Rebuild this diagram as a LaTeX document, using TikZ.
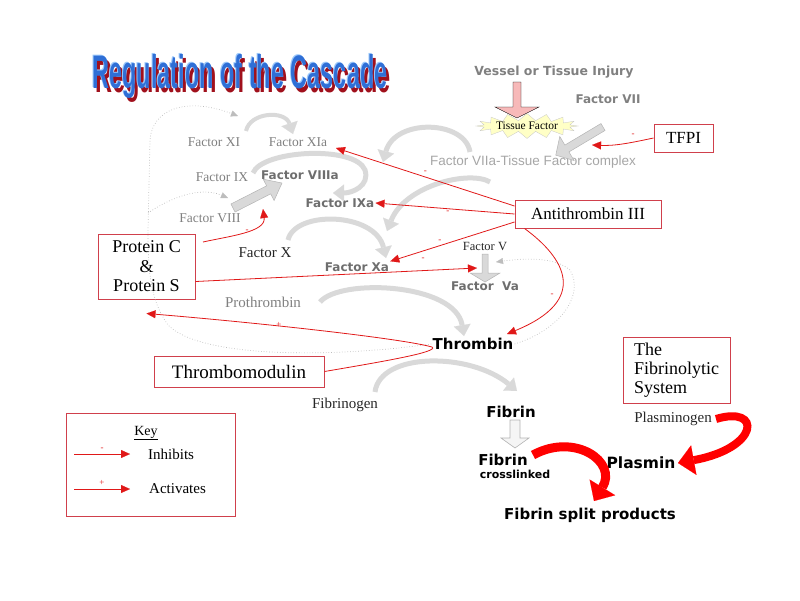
\documentclass[tikz,border=0pt]{standalone}
\usepackage{fontspec}
\setmainfont{Liberation Serif}
\newfontfamily\arialfont{Liberation Sans}
\newfontfamily\blackfont{DejaVu Sans}
\usetikzlibrary{arrows.meta}
\usetikzlibrary{calc,positioning}
\usetikzlibrary{shapes.symbols}

\definecolor{boxred}{HTML}{D0404C}
\definecolor{inhred}{HTML}{E01818}
\definecolor{lightgrey}{HTML}{D9D9D9}
\definecolor{edgegrey}{HTML}{B4B4B4}
\definecolor{txtgrey}{HTML}{808080}
\definecolor{boldgrey}{HTML}{6E6E6E}
\definecolor{complexgrey}{HTML}{A6A6A6}
\definecolor{dotgrey}{HTML}{BDBDBD}
\definecolor{injpink}{HTML}{F7B9B9}
\definecolor{tfyellow}{HTML}{FFFFC6}
\definecolor{titleblue}{HTML}{2F6FD6}
\definecolor{titlelight}{HTML}{9CC8FA}
\definecolor{titlered}{HTML}{A0101C}

% block arrow: style, start, angle, length, shaft half, head half, head length
\newcommand{\blockarrow}[7]{%
  \draw[#1, shift={(#2)}, rotate=#3] (0,-#5) -- (#4-#7,-#5) -- (#4-#7,-#6) -- (#4,0)
    -- (#4-#7,#6) -- (#4-#7,#5) -- (0,#5) -- cycle;}
\newcommand{\fsz}[1]{\fontsize{#1}{#1}\selectfont}
\newcommand{\titletext}{Regulation of the Cascade}

\begin{document}
\begin{tikzpicture}[x=1pt,y=-1pt]
\tikzstyle{titletxt}=[font=\arialfont\bfseries\fontsize{47}{50}\selectfont, xscale=0.5, inner sep=0pt]
\tikzstyle{greytxt}=[text=txtgrey, font=\fsz{13.5}, inner sep=1pt]
\tikzstyle{darktxt}=[text=black!85, font=\fsz{15}, inner sep=1pt]
\tikzstyle{boldtxt}=[text=boldgrey, font=\blackfont\bfseries\fsz{12}, inner sep=1pt]
\tikzstyle{blacktxt}=[text=black, font=\blackfont\bfseries\fsz{15}, inner sep=1pt]
\tikzstyle{redbox}=[draw=boxred, line width=1pt, inner sep=0pt, align=center]
\tikzstyle{inh}=[draw=inhred, line width=0.8pt, -{Triangle[width=8pt,length=9pt,line width=0.1pt]}]
\tikzstyle{minus}=[text=inhred, font=\fsz{9}, inner sep=1pt]
\tikzstyle{greyarc}=[draw=lightgrey, line width=5pt, -{Triangle[width=17pt,length=11pt,line width=0.1pt]}]
\tikzstyle{redarc}=[draw=red, line width=9pt, -{Triangle[width=30pt,length=16pt,line width=0.1pt]}]
\tikzstyle{dots}=[draw=dotgrey, dotted, line width=0.7pt, -{Triangle[width=6pt,length=7pt,line width=0.1pt]}]
\useasboundingbox (0,0) rectangle (800,600);

% title
\node[titletxt] (title) at (240,78) {\rlap{\hspace{6pt}\raisebox{-4pt}{\color{titlered}\titletext}}%
  \rlap{\hspace{-2pt}\raisebox{1pt}{\color{titlelight}\titletext}}{\color{titleblue}\titletext}};

% labels
\node[boldtxt, text=txtgrey, font=\blackfont\bfseries\fsz{12.5}] (vessel) at (554,72) {Vessel or Tissue Injury};
\node[boldtxt, text=txtgrey] (factorVII) at (608,99) {Factor VII};
\node[starburst, fill=tfyellow, draw=gray!45, line width=0.3pt, minimum width=98pt, minimum height=24pt,
  starburst points=16, starburst point height=7pt, random starburst=0, inner sep=0pt,
  font=\fsz{11.5}] (tissue) at (527,126) {Tissue Factor};
\node[text=complexgrey, font=\arialfont\fsz{13.5}, inner sep=1pt] (complex) at (533,162) {Factor VIIa-Tissue Factor complex};
\node[greytxt] (fXI) at (214,142) {Factor XI};
\node[greytxt] (fXIa) at (298,142) {Factor XIa};
\node[greytxt] (fIX) at (222,177) {Factor IX};
\node[boldtxt] (fVIIIa) at (300,175) {Factor VIIIa};
\node[greytxt] (fVIII) at (210,218) {Factor VIII};
\node[boldtxt] (fIXa) at (340,203) {Factor IXa};
\node[darktxt] (fX) at (265,253) {Factor X};
\node[boldtxt] (fXa) at (357,267) {Factor Xa};
\node[darktxt, font=\fsz{12.5}] (fV) at (485,246) {Factor V};
\node[boldtxt] (fVa) at (485,286) {Factor\ \ Va};
\node[greytxt, font=\fsz{15}] (prothrombin) at (263,302) {Prothrombin};
\node[blacktxt] (thrombin) at (473,344) {Thrombin};
\node[darktxt] (fibrinogen) at (345,405) {Fibrinogen};
\node[blacktxt] (fibrin) at (511,412) {Fibrin};
\node[blacktxt] (fibrinX) at (503,460) {Fibrin};
\node[blacktxt, font=\blackfont\bfseries\fsz{11}] (crosslinked) at (515,474) {crosslinked};
\node[blacktxt] (split) at (590,515) {Fibrin split products};
\node[blacktxt, font=\blackfont\bfseries\fsz{15.5}] (plasmin) at (641,463) {Plasmin};
\node[darktxt] (plasminogen) at (673,419) {Plasminogen};

% boxes
\node[redbox, minimum width=59pt, minimum height=28pt, font=\fsz{17}] (tfpi) at (683.5,138) {TFPI};
\node[redbox, minimum width=146pt, minimum height=28pt, font=\fsz{17}] (at3) at (588,214) {Antithrombin III};
\node[redbox, minimum width=97pt, minimum height=65pt, font=\fontsize{18}{19.5}\selectfont] (proteinCS) at (146.5,266.5) {Protein C\\ \&\\ Protein S};
\node[redbox, minimum width=170pt, minimum height=31pt, font=\fsz{19}] (tm) at (239,371.5) {Thrombomodulin};
\node[redbox, minimum width=107pt, minimum height=66pt, align=left, font=\fontsize{18}{19}\selectfont] (fibrinolytic) at (676.5,370) {The\\Fibrinolytic\\System};
\node[redbox, minimum width=169pt, minimum height=103pt] (key) at (150.5,464.5) {};

% end points
\coordinate (injTop) at (517,82);
\coordinate (viiOut) at (603,127);
\coordinate (viiiOut) at (233,208);
\coordinate (vOut) at (485,254);
\coordinate (fbOut) at (515,420);
\coordinate (xiOut) at (246,131);
\coordinate (xiaIn) at (293,134);
\coordinate (ixOut) at (253,173);
\coordinate (ixaIn) at (333,193);
\coordinate (xOut) at (288,240);
\coordinate (xaIn) at (386,258);
\coordinate (cxOut) at (470,152);
\coordinate (cxIn) at (383,162);
\coordinate (cxTwoOut) at (490,182);
\coordinate (cxTwoIn) at (387,231);
\coordinate (ptOut) at (320,302);
\coordinate (thIn) at (464,336);
\coordinate (fgOut) at (375,392);
\coordinate (fbIn) at (517,391);
\coordinate (fxOut) at (533,455);
\coordinate (splitIn) at (594,501);
\coordinate (pgOut) at (716,419);
\coordinate (plIn) at (678,463);
\coordinate (xiaTip) at (336,148);
\coordinate (thTop) at (507,334);
\coordinate (tfpiEnd) at (592,145);
\coordinate (pcOut) at (203,242);
\coordinate (viiiaLow) at (263,209);
\coordinate (vaIn) at (477,268);
\coordinate (xiTop) at (238,116);
\coordinate (viiiTop) at (228,198);
\coordinate (vaRight) at (496,262);

% block arrows
\blockarrow{fill=injpink}{injTop}{-90}{36}{4}{22}{11}
\blockarrow{fill=lightgrey, draw=edgegrey, line width=0.5pt}{viiOut}{210.8}{55}{4}{14}{13}
\blockarrow{fill=lightgrey, draw=edgegrey, line width=0.5pt}{viiiOut}{27}{55}{4.5}{12}{15}
\blockarrow{fill=lightgrey, draw=edgegrey, line width=0.5pt}{vOut}{-90}{28}{3}{15}{9}
\blockarrow{fill=gray!8, draw=gray!60, line width=0.6pt}{fbOut}{-90}{28}{5}{14}{10}

% grey arcs
\draw[greyarc, line width=4pt] (xiOut) .. controls (250,112) and (285,110) .. (xiaIn);
\draw[greyarc] (ixOut) .. controls (262,150) and (355,145) .. (365,170) .. controls (370,186) and (352,193) .. (ixaIn);
\draw[greyarc] (xOut) .. controls (295,210) and (375,212) .. (xaIn);
\draw[greyarc] (cxOut) .. controls (465,120) and (395,118) .. (cxIn);
\draw[greyarc] (cxTwoOut) .. controls (470,170) and (405,185) .. (cxTwoIn);
\draw[greyarc] (ptOut) .. controls (340,278) and (455,283) .. (thIn);
\draw[greyarc] (fgOut) .. controls (380,352) and (470,352) .. (fbIn);

% red arcs
\draw[redarc] (fxOut) .. controls (575,432) and (618,462) .. (splitIn);
\draw[redarc, line width=8pt] (pgOut) .. controls (762,405) and (760,448) .. (plIn);

% dotted feedback
\draw[dots] (thrombin.west) .. controls (330,358) and (200,358) .. (168,325) .. controls (150,300) and (148,270) .. (148,230) -- (150,140) .. controls (152,110) and (185,96) .. (xiTop);
\draw[dots] (148,213) .. controls (170,198) and (200,186) .. (viiiTop);
\draw[dots] (thrombin.east) .. controls (560,330) and (585,295) .. (570,270) .. controls (555,257) and (525,258) .. (vaRight);

% inhibition and activation
\draw[inh] ([yshift=8pt]at3.west) -- (xiaTip) node[minus, pos=0.5, above=2pt] {-};
\draw[inh] (at3.west) -- (fIXa.east) node[minus, pos=0.48, below=1pt] {-};
\draw[inh] ([yshift=-8pt]at3.west) -- (fXa.north east) node[minus, pos=0.6, above=2pt] {-};
\draw[inh] ([xshift=10pt]at3.south west) .. controls (565,258) and (590,300) .. (thTop);
\node[minus] (mThrombin) at (552,295) {-};
\draw[inh] (tfpi.west) .. controls (630,143) and (615,146) .. (tfpiEnd);
\node[minus] (mTfpi) at (633,135) {-};
\draw[inh] (pcOut) .. controls (230,236) and (266,232) .. (viiiaLow);
\node[minus] (mVIIIa) at (247,231) {-};
\draw[inh] ([yshift=-15pt]proteinCS.east) -- (vaIn);
\node[minus] (mVa) at (423,259) {-};
\draw[inh] (tm.east) .. controls (380,362) and (440,352) .. (432,347) .. controls (400,338) and (250,322) .. ([yshift=-14pt]proteinCS.south);
\node[minus] (mPlus) at (279,325) {+};

% key
\node[font=\fsz{14}, inner sep=0pt] (keyLbl) at (146,433) {\underline{Key}};
\node[anchor=west, font=\fsz{15}, inner sep=0pt] (inhibits) at (148,454) {Inhibits};
\node[anchor=west, font=\fsz{15}, inner sep=0pt] (activates) at (149,489) {Activates};
\coordinate (keyInA) at (74,454);
\coordinate (keyInB) at (130,454);
\coordinate (keyAcA) at (74,489);
\coordinate (keyAcB) at (130,489);
\draw[inh] (keyInA) -- (keyInB) node[minus, midway, above=2pt] {-};
\draw[inh] (keyAcA) -- (keyAcB) node[minus, midway, above=2pt] {+};
\end{tikzpicture}
\end{document}
